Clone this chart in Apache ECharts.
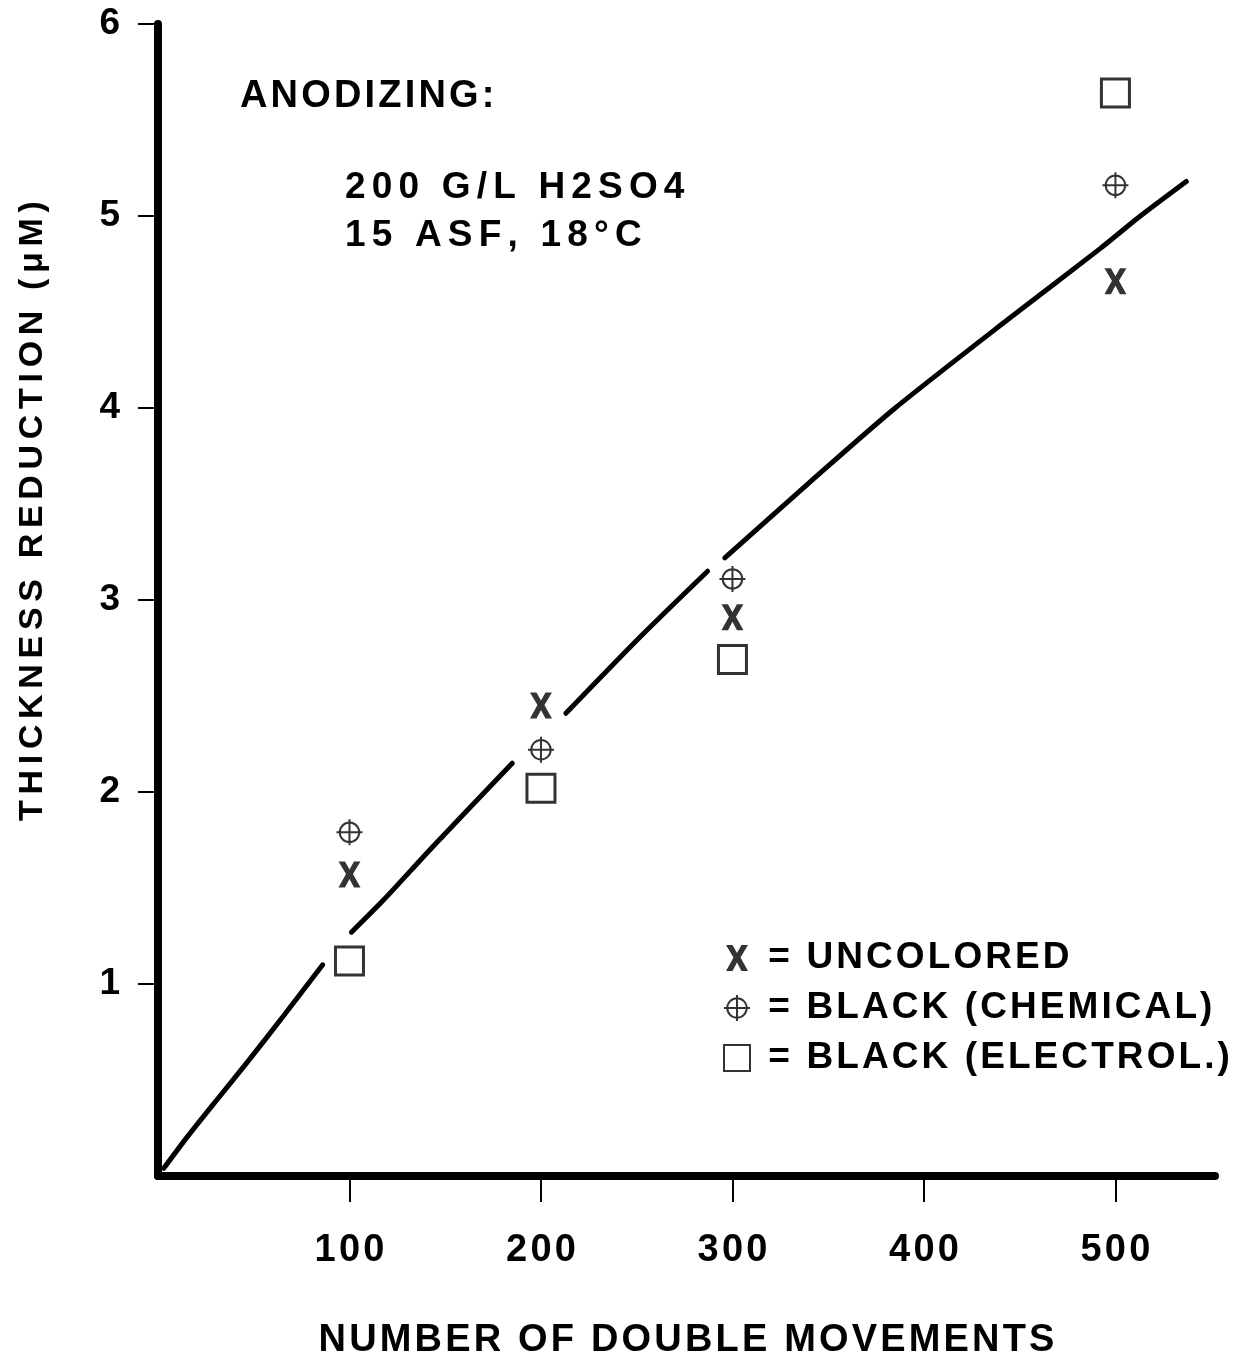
<!DOCTYPE html>
<html>
<head>
<meta charset="utf-8">
<script src="https://cdn.jsdelivr.net/npm/echarts@6/dist/echarts.min.js"></script>
<style>
  html, body { margin: 0; padding: 0; background: #fff; }
  #chart { width: 1251px; height: 1366px; }
</style>
</head>
<body>
<div id="chart"></div>
<script>
// tick labels
const xTicks = [100, 200, 300, 400, 500];
const yTicks = [1, 2, 3, 4, 5, 6];

// measured points (double movements -> thickness reduction, µm)
const pointX = [100, 200, 300, 500];
const uncolored = [1.57, 2.45, 2.91, 4.66];
const blackChemical = [1.79, 2.22, 3.11, 5.16];
const blackElectrol = [1.12, 2.02, 2.69, 5.64];

// hand drawn fit line, null = gap around the markers
const curveX = [3, 15, 31, 48, 66, 86, null, 101, 118, 143, 185, null, 213, 252, 287, null, 296, 340, 385, 445, 492, 513, 537];
const curveY = [0.04, 0.20, 0.40, 0.61, 0.84, 1.10, null, 1.27, 1.44, 1.71, 2.15, null, 2.41, 2.81, 3.15, null, 3.22, 3.61, 4.00, 4.47, 4.83, 5.00, 5.18];

const FONT = '"Liberation Sans", Arial, Helvetica, sans-serif';
// letter spaced lettering like the original (n hair spaces between letters)
const sp = (s, n) => s.split('').join('\u200A'.repeat(n || 1));

// split the curve into segments at the gaps
let segments = [[]];
curveX.forEach((x, i) => {
  if (x === null) {
    segments.push([]);
  } else {
    segments[segments.length - 1].push([x, curveY[i]]);
  }
});

const lineSeries = segments.map(seg => ({
  type: 'line',
  data: seg,
  smooth: 0.25,
  symbol: 'none',
  silent: true,
  lineStyle: { color: '#000', width: 5, cap: 'round' },
  z: 2
}));

const X_PATH = 'path://M0,0 L6.5,0 L11,8 L15.5,0 L22,0 L14.5,12.5 L22,26 L15.5,26 L11,17.5 L6.5,26 L0,26 L7.5,12.5 Z';
const CROSS_PATH = 'path://M12,3 A9,9 0 1,1 12,21 A9,9 0 1,1 12,3 Z M0,12 L24,12 M12,0 L12,24';

const chart = echarts.init(document.getElementById('chart'), null, { renderer: 'canvas' });

const textStyle = (size) => ({ fontFamily: FONT, fontWeight: 'bold', fontSize: size, color: '#000' });

const option = {
  backgroundColor: '#fff',
  animation: false,
  grid: { left: 158, right: 36, top: 24, bottom: 190 },
  legend: {
    orient: 'vertical',
    left: 718,
    top: 934,
    itemWidth: 26,
    itemHeight: 26,
    itemGap: 12,
    selectedMode: false,
    formatter: name => sp(' = ' + name),
    textStyle: Object.assign(textStyle(37), { lineHeight: 38 }),
    data: ['UNCOLORED', 'BLACK (CHEMICAL)', 'BLACK (ELECTROL.)']
  },
  xAxis: {
    type: 'value',
    min: 0,
    max: 552,
    name: sp('NUMBER OF DOUBLE MOVEMENTS'),
    nameLocation: 'middle',
    nameGap: 146,
    nameTextStyle: textStyle(38),
    splitLine: { show: false },
    axisLine: { show: true, onZero: false, lineStyle: { color: '#000', width: 8 } },
    axisTick: { show: true, customValues: xTicks, length: 26, lineStyle: { color: '#000', width: 2 } },
    axisLabel: Object.assign(textStyle(38), {
      customValues: xTicks,
      margin: 56,
      formatter: v => sp(String(v))
    })
  },
  yAxis: {
    type: 'value',
    min: 0,
    max: 6,
    splitLine: { show: false },
    axisLine: { show: true, onZero: false, lineStyle: { color: '#000', width: 8 } },
    axisTick: { show: true, customValues: yTicks, length: 20, lineStyle: { color: '#000', width: 2 } },
    axisLabel: Object.assign(textStyle(37), {
      customValues: yTicks,
      margin: 38
    })
  },
  graphic: [
    {
      type: 'text', x: 33, y: 511, rotation: Math.PI / 2,
      style: {
        text: sp('THICKNESS REDUCTION (μM)', 2),
        font: 'bold 34px ' + FONT, fill: '#000',
        textAlign: 'center', textVerticalAlign: 'middle', align: 'center', verticalAlign: 'middle'
      }
    },
    {
      type: 'text', x: 240, y: 97,
      style: { text: sp('ANODIZING:'), font: 'bold 38px ' + FONT, fill: '#000',
        textAlign: 'left', textVerticalAlign: 'middle', align: 'left', verticalAlign: 'middle' }
    },
    {
      type: 'text', x: 345, y: 188,
      style: { text: sp('200 G/L H2SO4', 2), font: 'bold 37px ' + FONT, fill: '#000',
        textAlign: 'left', textVerticalAlign: 'middle', align: 'left', verticalAlign: 'middle' }
    },
    {
      type: 'text', x: 345, y: 236,
      style: { text: sp('15 ASF, 18°C', 2), font: 'bold 37px ' + FONT, fill: '#000',
        textAlign: 'left', textVerticalAlign: 'middle', align: 'left', verticalAlign: 'middle' }
    }
  ],
  series: lineSeries.concat([
    {
      name: 'UNCOLORED',
      type: 'scatter',
      symbol: X_PATH,
      symbolSize: [22, 26],
      itemStyle: { color: '#000' },
      data: pointX.map((x, i) => [x, uncolored[i]]),
      z: 5
    },
    {
      name: 'BLACK (CHEMICAL)',
      type: 'scatter',
      symbol: CROSS_PATH,
      symbolSize: 26,
      itemStyle: { color: 'transparent', borderColor: '#000', borderWidth: 2 },
      data: pointX.map((x, i) => [x, blackChemical[i]]),
      z: 5
    },
    {
      name: 'BLACK (ELECTROL.)',
      type: 'scatter',
      symbol: 'rect',
      symbolSize: 28,
      itemStyle: { color: '#fff', borderColor: '#000', borderWidth: 3 },
      data: pointX.map((x, i) => [x, blackElectrol[i]]),
      z: 5
    }
  ])
};

chart.setOption(option);
</script>
</body>
</html>
